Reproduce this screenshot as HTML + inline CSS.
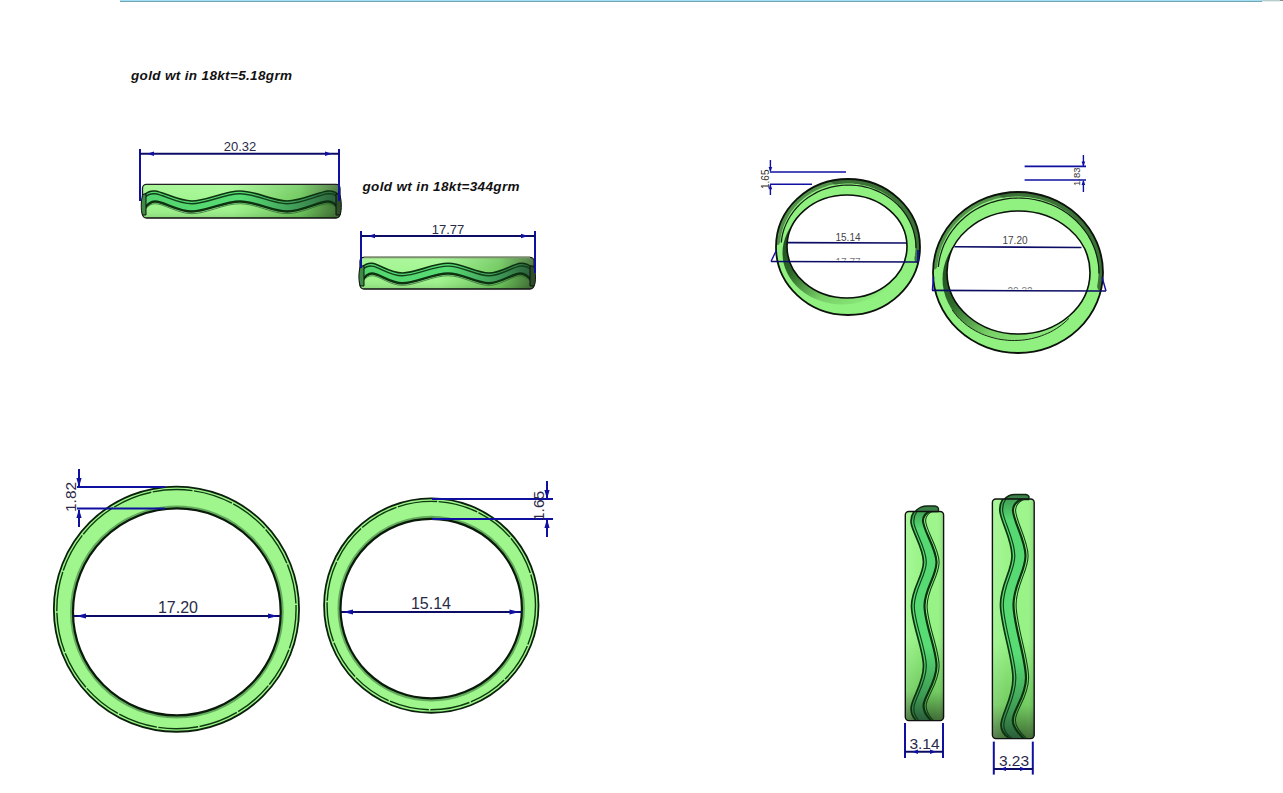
<!DOCTYPE html>
<html><head><meta charset="utf-8"><style>
html,body{margin:0;padding:0;background:#fff;width:1283px;height:793px;overflow:hidden}
svg{display:block}
</style></head><body>
<svg width="1283" height="793" viewBox="0 0 1283 793">
<rect x="120" y="0" width="1142" height="1" fill="#a3dff4"/>
<rect x="120" y="1" width="1142" height="1" fill="#72a6b6"/>
<rect x="1262" y="0" width="18" height="1" fill="#b8cccc"/>
<rect x="1262" y="1" width="18" height="1" fill="#e4eeee"/>
<rect x="1280" y="0" width="3" height="1" fill="#8a8a8a"/>
<text x="131" y="79.6" textLength="161" lengthAdjust="spacing" font-family="Liberation Sans" font-weight="bold" font-style="italic" font-size="13.5" fill="#111">gold wt in 18kt=5.18grm</text>
<text x="362.5" y="190.8" textLength="157" lengthAdjust="spacing" font-family="Liberation Sans" font-weight="bold" font-style="italic" font-size="13.5" fill="#111">gold wt in 18kt=344grm</text>
<defs><linearGradient id="b1b" x1="0" y1="0" x2="1" y2="0"><stop offset="0" stop-color="#9cf48a"/><stop offset="0.45" stop-color="#a0f68e"/><stop offset="0.8" stop-color="#6cc85a"/><stop offset="1" stop-color="#3c6a30"/></linearGradient><linearGradient id="b1v" x1="0" y1="0" x2="0" y2="1"><stop offset="0" stop-color="#fff" stop-opacity="0.15"/><stop offset="0.6" stop-color="#fff" stop-opacity="0"/><stop offset="1" stop-color="#000" stop-opacity="0.12"/></linearGradient><linearGradient id="b1s" x1="0" y1="0" x2="1" y2="0"><stop offset="0" stop-color="#54d46e"/><stop offset="0.5" stop-color="#58dc74"/><stop offset="0.85" stop-color="#3a8a50"/><stop offset="1" stop-color="#2a5a38"/></linearGradient></defs>
<rect x="142.5" y="184.4" width="197.5" height="33.599999999999994" rx="4" fill="url(#b1b)" stroke="#111" stroke-width="1.3"/>
<rect x="142.5" y="184.4" width="197.5" height="33.599999999999994" rx="4" fill="url(#b1v)"/>
<path d="M142.0,196.5 C144.2,195.6 146.7,190.2 155.0,191.0 C163.3,191.8 177.8,201.0 192.0,201.0 C206.2,201.0 224.2,191.0 240.0,191.0 C255.8,191.0 272.3,201.0 287.0,201.0 C301.7,201.0 319.1,191.8 328.0,191.0 C336.9,190.2 338.4,195.6 340.5,196.5 L340.5,212.0 C338.4,210.2 336.9,201.6 328.0,201.5 C319.1,201.4 301.7,211.5 287.0,211.5 C272.3,211.5 255.8,201.5 240.0,201.5 C224.2,201.5 206.2,211.5 192.0,211.5 C177.8,211.5 163.3,201.4 155.0,201.5 C146.7,201.6 144.2,210.2 142.0,212.0 Z" fill="url(#b1s)"/>
<path d="M142.0,196.5 C144.2,195.6 146.7,190.2 155.0,191.0 C163.3,191.8 177.8,201.0 192.0,201.0 C206.2,201.0 224.2,191.0 240.0,191.0 C255.8,191.0 272.3,201.0 287.0,201.0 C301.7,201.0 319.1,191.8 328.0,191.0 C336.9,190.2 338.4,195.6 340.5,196.5" fill="none" stroke="#0c3210" stroke-width="1.6"/>
<path d="M142.0,199.3 C144.2,198.4 146.7,193.1 155.0,193.8 C163.3,194.6 177.8,203.8 192.0,203.8 C206.2,203.8 224.2,193.8 240.0,193.8 C255.8,193.8 272.3,203.8 287.0,203.8 C301.7,203.8 319.1,194.6 328.0,193.8 C336.9,193.1 338.4,198.4 340.5,199.3" fill="none" stroke="#12401a" stroke-width="1.4"/>
<path d="M340.5,212.0 C338.4,210.2 336.9,201.6 328.0,201.5 C319.1,201.4 301.7,211.5 287.0,211.5 C272.3,211.5 255.8,201.5 240.0,201.5 C224.2,201.5 206.2,211.5 192.0,211.5 C177.8,211.5 163.3,201.4 155.0,201.5 C146.7,201.6 144.2,210.2 142.0,212.0" fill="none" stroke="#0c3210" stroke-width="2.4"/>
<path d="M142.0,214.2 C144.2,212.4 146.7,203.8 155.0,203.7 C163.3,203.6 177.8,213.7 192.0,213.7 C206.2,213.7 224.2,203.7 240.0,203.7 C255.8,203.7 272.3,213.7 287.0,213.7 C301.7,213.7 319.1,203.6 328.0,203.7 C336.9,203.8 338.4,212.4 340.5,214.2" fill="none" stroke="#2a5a30" stroke-width="1" stroke-opacity="0.7"/>
<path d="M339,194 C341.8,197 342,211 340,215 L336,215 L336,194 Z" fill="#2e4e2a" stroke="#111" stroke-width="1"/>
<path d="M143.5,194 C140.8,197 140.6,211 142.5,215 L146,215 L146,194 Z" fill="#3e8a46" stroke="#111" stroke-width="1"/>
<line x1="140" y1="149" x2="140" y2="201" stroke="#1010a0" stroke-width="2"/>
<line x1="339" y1="149" x2="339" y2="201" stroke="#1010a0" stroke-width="2"/>
<line x1="140" y1="153.7" x2="339" y2="153.7" stroke="#0c0c64" stroke-width="2"/>
<path d="M147,153.7 L154,151.5 L154,155.89999999999998 Z" fill="#1010a0"/>
<path d="M332,153.7 L325,151.5 L325,155.89999999999998 Z" fill="#1010a0"/>
<text x="240" y="151.4" font-family="Liberation Sans" font-size="13" text-anchor="middle" fill="#2a2a48">20.32</text>
<defs><linearGradient id="b2b" x1="0" y1="0" x2="1" y2="0"><stop offset="0" stop-color="#9cf48a"/><stop offset="0.45" stop-color="#a0f68e"/><stop offset="0.8" stop-color="#6cc85a"/><stop offset="1" stop-color="#3c6a30"/></linearGradient><linearGradient id="b2v" x1="0" y1="0" x2="0" y2="1"><stop offset="0" stop-color="#fff" stop-opacity="0.15"/><stop offset="0.6" stop-color="#fff" stop-opacity="0"/><stop offset="1" stop-color="#000" stop-opacity="0.12"/></linearGradient><linearGradient id="b2s" x1="0" y1="0" x2="1" y2="0"><stop offset="0" stop-color="#54d46e"/><stop offset="0.5" stop-color="#58dc74"/><stop offset="0.85" stop-color="#3a8a50"/><stop offset="1" stop-color="#2a5a38"/></linearGradient></defs>
<rect x="360" y="257.4" width="174" height="31.600000000000023" rx="4" fill="url(#b2b)" stroke="#111" stroke-width="1.3"/>
<rect x="360" y="257.4" width="174" height="31.600000000000023" rx="4" fill="url(#b2v)"/>
<line x1="364" y1="257.4" x2="530" y2="257.4" stroke="#7a8e6a" stroke-width="1.6"/>
<path d="M359.5,268.8 C361.6,267.9 364.9,262.6 372.0,263.3 C379.1,264.0 389.7,273.0 402.4,273.0 C415.1,273.0 433.6,263.3 448.0,263.3 C462.4,263.3 476.6,273.0 488.7,273.0 C500.8,273.0 512.9,264.0 520.5,263.3 C528.1,262.6 532.2,267.9 534.5,268.8 L534.5,283.7 C532.2,282.0 528.1,273.6 520.5,273.5 C512.9,273.4 500.8,283.2 488.7,283.2 C476.6,283.2 462.4,273.5 448.0,273.5 C433.6,273.5 415.1,283.2 402.4,283.2 C389.7,283.2 379.1,273.4 372.0,273.5 C364.9,273.6 361.6,282.0 359.5,283.7 Z" fill="url(#b2s)"/>
<path d="M359.5,268.8 C361.6,267.9 364.9,262.6 372.0,263.3 C379.1,264.0 389.7,273.0 402.4,273.0 C415.1,273.0 433.6,263.3 448.0,263.3 C462.4,263.3 476.6,273.0 488.7,273.0 C500.8,273.0 512.9,264.0 520.5,263.3 C528.1,262.6 532.2,267.9 534.5,268.8" fill="none" stroke="#0c3210" stroke-width="1.6"/>
<path d="M359.5,271.6 C361.6,270.7 364.9,265.4 372.0,266.1 C379.1,266.8 389.7,275.8 402.4,275.8 C415.1,275.8 433.6,266.1 448.0,266.1 C462.4,266.1 476.6,275.8 488.7,275.8 C500.8,275.8 512.9,266.8 520.5,266.1 C528.1,265.4 532.2,270.7 534.5,271.6" fill="none" stroke="#12401a" stroke-width="1.4"/>
<path d="M534.5,283.7 C532.2,282.0 528.1,273.6 520.5,273.5 C512.9,273.4 500.8,283.2 488.7,283.2 C476.6,283.2 462.4,273.5 448.0,273.5 C433.6,273.5 415.1,283.2 402.4,283.2 C389.7,283.2 379.1,273.4 372.0,273.5 C364.9,273.6 361.6,282.0 359.5,283.7" fill="none" stroke="#0c3210" stroke-width="2.4"/>
<path d="M359.5,285.9 C361.6,284.2 364.9,275.8 372.0,275.7 C379.1,275.6 389.7,285.4 402.4,285.4 C415.1,285.4 433.6,275.7 448.0,275.7 C462.4,275.7 476.6,285.4 488.7,285.4 C500.8,285.4 512.9,275.6 520.5,275.7 C528.1,275.8 532.2,284.2 534.5,285.9" fill="none" stroke="#2a5a30" stroke-width="1" stroke-opacity="0.7"/>
<path d="M533,266 C536,269 536.2,283 534,286 L530,286 L530,266 Z" fill="#2e4e2a" stroke="#111" stroke-width="1"/>
<path d="M361,266 C358.3,269 358.3,283 360.5,286 L364,286 L364,266 Z" fill="#3e8a46" stroke="#111" stroke-width="1"/>
<line x1="361" y1="231" x2="361" y2="268" stroke="#1010a0" stroke-width="2"/>
<line x1="535" y1="231" x2="535" y2="273" stroke="#1010a0" stroke-width="2"/>
<line x1="361" y1="236" x2="535" y2="236" stroke="#0c0c64" stroke-width="2"/>
<path d="M368,236 L375,233.8 L375,238.2 Z" fill="#1010a0"/>
<path d="M528,236 L521,233.8 L521,238.2 Z" fill="#1010a0"/>
<text x="448" y="233.5" font-family="Liberation Sans" font-size="13" text-anchor="middle" fill="#2a2a48">17.77</text>
<circle cx="176.45" cy="609.15" r="122.6" fill="#9ef68c" stroke="#0a200a" stroke-width="1.8"/>
<circle cx="176.45" cy="609.15" r="119.6" fill="none" stroke="#0e3a0e" stroke-width="1.4" stroke-dasharray="40 1.5"/>
<ellipse cx="176.85" cy="611.9" rx="105.35" ry="105.0" fill="none" stroke="#3a7a3a" stroke-width="3" stroke-opacity="0.6"/>
<ellipse cx="176.85" cy="611.9" rx="103.85" ry="103.5" fill="#fff" stroke="#0a1a0a" stroke-width="2.2"/>
<circle cx="431.3" cy="605.55" r="107.2" fill="#9ef68c" stroke="#0a200a" stroke-width="1.8"/>
<circle cx="431.3" cy="605.55" r="104.2" fill="none" stroke="#0e3a0e" stroke-width="1.4" stroke-dasharray="40 1.5"/>
<ellipse cx="431.2" cy="608.6" rx="92.2" ry="91.3" fill="none" stroke="#3a7a3a" stroke-width="3" stroke-opacity="0.6"/>
<ellipse cx="431.2" cy="608.6" rx="90.7" ry="89.8" fill="#fff" stroke="#0a1a0a" stroke-width="2.2"/>
<line x1="77" y1="487" x2="165" y2="487" stroke="#1010a0" stroke-width="2"/>
<line x1="77" y1="508.6" x2="165" y2="508.6" stroke="#1010a0" stroke-width="2"/>
<line x1="79" y1="469" x2="79" y2="486" stroke="#1010a0" stroke-width="2"/>
<path d="M79,487 L76.4,478 L81.6,478 Z" fill="#1010a0"/>
<line x1="79" y1="510" x2="79" y2="527" stroke="#1010a0" stroke-width="2"/>
<path d="M79,509 L76.4,518 L81.6,518 Z" fill="#1010a0"/>
<text x="76" y="512" font-family="Liberation Sans" font-size="15.5" text-anchor="start" fill="#2a2a48" transform="rotate(-90 76 512)">1.82</text>
<line x1="73.5" y1="616" x2="280.5" y2="616" stroke="#0c0c64" stroke-width="2"/>
<path d="M76,616 L86,613.4 L86,618.6 Z" fill="#1010a0"/>
<path d="M278,616 L268,613.4 L268,618.6 Z" fill="#1010a0"/>
<text x="178" y="612.8" font-family="Liberation Sans" font-size="16" text-anchor="middle" fill="#2a2a48">17.20</text>
<line x1="432" y1="498.9" x2="553" y2="498.9" stroke="#1010a0" stroke-width="2"/>
<line x1="432" y1="518.9" x2="553" y2="518.9" stroke="#1010a0" stroke-width="2"/>
<line x1="547" y1="481" x2="547" y2="498" stroke="#1010a0" stroke-width="2"/>
<path d="M547,498.9 L544.4,489.9 L549.6,489.9 Z" fill="#1010a0"/>
<line x1="547" y1="519" x2="547" y2="537" stroke="#1010a0" stroke-width="2"/>
<path d="M547,518.9 L544.4,527.9 L549.6,527.9 Z" fill="#1010a0"/>
<text x="544" y="521" font-family="Liberation Sans" font-size="15.5" text-anchor="start" fill="#2a2a48" transform="rotate(-90 544 521)">1.65</text>
<line x1="341" y1="612" x2="522" y2="612" stroke="#0c0c64" stroke-width="2"/>
<path d="M343,612 L353,609.4 L353,614.6 Z" fill="#1010a0"/>
<path d="M519.5,612 L509.5,609.4 L509.5,614.6 Z" fill="#1010a0"/>
<text x="431" y="608.8" font-family="Liberation Sans" font-size="16" text-anchor="middle" fill="#2a2a48">15.14</text>
<defs><linearGradient id="pg1" x1="0" y1="0.3" x2="0.8" y2="1"><stop offset="0" stop-color="#1e4a1e"/><stop offset="0.3" stop-color="#2e6a2a"/><stop offset="0.62" stop-color="#78d066"/><stop offset="1" stop-color="#90f080"/></linearGradient><clipPath id="pg1c"><ellipse cx="848" cy="247" rx="72" ry="68"/></clipPath></defs>
<ellipse cx="848" cy="247" rx="72" ry="68" fill="#90f080"/>
<g clip-path="url(#pg1c)">
<path d="M835.5,180.0 L838.9,179.5 L842.4,179.2 L845.8,179.0 L849.3,179.0 L852.7,179.1 L856.2,179.4 L859.6,179.9 L863.0,180.5 L866.3,181.2 L869.7,182.1 L872.9,183.2 L876.1,184.4 L879.3,185.8 L882.4,187.2 L885.4,188.9 L888.3,190.6 L891.1,192.5 L893.8,194.5 L896.4,196.7 L898.9,198.9 L901.3,201.3 L903.6,203.7 L905.7,206.3 L907.7,209.0 L909.6,211.7 L911.3,214.6 L912.9,217.5 L914.3,220.4 L915.5,223.5 L916.7,226.6 L917.6,229.7 L918.4,232.9 L919.1,236.1 L919.5,239.3 L919.8,242.6 L920.0,245.8 L920.0,249.1 L919.8,252.3 L919.4,255.6 L918.9,258.8" fill="none" stroke="#2e5a2a" stroke-width="9" stroke-linecap="round" stroke-opacity="0.85"/>
<path d="M776.3,241.1 L776.5,238.9 L776.8,236.7 L777.2,234.5 L777.7,232.3 L778.3,230.1 L778.9,228.0 L779.6,225.8 L780.3,223.7 L781.2,221.7 L782.1,219.6 L783.1,217.6 L784.1,215.6 L785.3,213.6 L786.4,211.7 L787.7,209.8 L789.0,208.0 L790.4,206.2 L791.8,204.4 L793.4,202.7 L794.9,201.1 L796.5,199.4 L798.2,197.9 L799.9,196.4 L801.7,194.9 L803.5,193.5 L805.4,192.2 L807.3,190.9 L809.3,189.6 L811.3,188.5 L813.4,187.4 L815.5,186.3 L817.6,185.4 L819.7,184.5 L821.9,183.6 L824.1,182.9 L826.3,182.1 L828.6,181.5 L830.9,180.9 L833.2,180.5 L835.5,180.0" fill="none" stroke="#3a6a34" stroke-width="8" stroke-linecap="round" stroke-opacity="0.7"/>
<path d="M781.3,242.5 L781.9,237.7 L782.9,233.0 L784.3,228.4 L786.1,223.9 L788.3,219.5 L790.8,215.3 L793.6,211.3 L796.8,207.5 L800.3,203.9 L804.0,200.6 L808.0,197.6 L812.2,194.9 L816.7,192.4 L821.3,190.3 L826.1,188.6 L831.0,187.1 L836.1,186.1 L841.2,185.4 L846.3,185.0 L851.4,185.1 L856.6,185.5 L861.7,186.2 L866.7,187.3 L871.6,188.8 L876.4,190.6 L881.0,192.8 L885.4,195.2 L889.6,198.0 L893.6,201.1 L897.3,204.4 L900.7,208.0 L903.8,211.9 L906.6,215.9 L909.0,220.1 L911.1,224.5 L912.9,229.1 L914.2,233.7 L915.2,238.4 L915.8,243.2 L916.0,248.0" fill="none" stroke="#0e200e" stroke-width="1.2"/>
</g>
<ellipse cx="848" cy="247" rx="72" ry="68" fill="none" stroke="#0a120a" stroke-width="1.8"/>
<ellipse cx="842.5" cy="253.0" rx="60" ry="51.5" fill="url(#pg1)"/>
<ellipse cx="847" cy="246.5" rx="60" ry="51.5" fill="#fff" stroke="#0a120a" stroke-width="1.6"/>
<defs><linearGradient id="pg2" x1="0" y1="0.3" x2="0.8" y2="1"><stop offset="0" stop-color="#1e4a1e"/><stop offset="0.3" stop-color="#2e6a2a"/><stop offset="0.62" stop-color="#78d066"/><stop offset="1" stop-color="#90f080"/></linearGradient><clipPath id="pg2c"><ellipse cx="1018" cy="272.5" rx="85" ry="80.5"/></clipPath></defs>
<ellipse cx="1018" cy="272.5" rx="85" ry="80.5" fill="#90f080"/>
<g clip-path="url(#pg2c)">
<path d="M1003.2,193.2 L1007.3,192.6 L1011.3,192.2 L1015.4,192.0 L1019.5,192.0 L1023.6,192.2 L1027.6,192.5 L1031.7,193.0 L1035.7,193.8 L1039.6,194.7 L1043.6,195.7 L1047.4,197.0 L1051.2,198.4 L1054.9,200.0 L1058.6,201.8 L1062.1,203.7 L1065.5,205.8 L1068.9,208.0 L1072.1,210.4 L1075.2,212.9 L1078.1,215.6 L1080.9,218.4 L1083.6,221.3 L1086.1,224.3 L1088.5,227.5 L1090.7,230.7 L1092.7,234.1 L1094.6,237.5 L1096.2,241.0 L1097.7,244.6 L1099.1,248.3 L1100.2,252.0 L1101.1,255.8 L1101.9,259.6 L1102.5,263.4 L1102.8,267.2 L1103.0,271.1 L1103.0,275.0 L1102.7,278.8 L1102.3,282.7 L1101.7,286.5" fill="none" stroke="#2e5a2a" stroke-width="9" stroke-linecap="round" stroke-opacity="0.85"/>
<path d="M933.3,265.5 L933.6,262.9 L934.0,260.3 L934.5,257.7 L935.0,255.1 L935.7,252.5 L936.4,250.0 L937.2,247.5 L938.1,245.0 L939.1,242.5 L940.2,240.1 L941.4,237.7 L942.6,235.3 L943.9,233.0 L945.3,230.7 L946.8,228.5 L948.4,226.3 L950.0,224.2 L951.7,222.1 L953.5,220.1 L955.3,218.1 L957.2,216.2 L959.2,214.3 L961.3,212.6 L963.4,210.8 L965.5,209.2 L967.7,207.6 L970.0,206.1 L972.3,204.6 L974.7,203.2 L977.1,201.9 L979.6,200.7 L982.1,199.5 L984.6,198.5 L987.2,197.5 L989.8,196.6 L992.4,195.7 L995.1,195.0 L997.8,194.3 L1000.5,193.7 L1003.2,193.2" fill="none" stroke="#3a6a34" stroke-width="8" stroke-linecap="round" stroke-opacity="0.7"/>
<path d="M938.3,266.9 L939.1,261.2 L940.3,255.6 L942.0,250.0 L944.1,244.6 L946.7,239.4 L949.7,234.3 L953.1,229.5 L956.8,225.0 L961.0,220.7 L965.4,216.7 L970.2,213.1 L975.2,209.8 L980.6,206.9 L986.1,204.4 L991.8,202.3 L997.7,200.6 L1003.7,199.3 L1009.7,198.4 L1015.9,198.0 L1022.0,198.1 L1028.1,198.5 L1034.2,199.5 L1040.2,200.8 L1046.0,202.6 L1051.7,204.7 L1057.2,207.3 L1062.5,210.3 L1067.5,213.6 L1072.2,217.3 L1076.7,221.3 L1080.7,225.6 L1084.4,230.2 L1087.8,235.0 L1090.7,240.1 L1093.2,245.4 L1095.3,250.8 L1096.9,256.4 L1098.1,262.0 L1098.8,267.7 L1099.0,273.5" fill="none" stroke="#0e200e" stroke-width="1.2"/>
</g>
<ellipse cx="1018" cy="272.5" rx="85" ry="80.5" fill="none" stroke="#0a120a" stroke-width="1.8"/>
<ellipse cx="1014.0" cy="279.0" rx="71.5" ry="61.5" fill="url(#pg2)"/>
<path d="M1068.8,318.5 L1066.5,320.7 L1064.1,322.9 L1061.6,324.9 L1059.0,326.8 L1056.3,328.6 L1053.5,330.3 L1050.6,331.9 L1047.6,333.3 L1044.5,334.6 L1041.4,335.8 L1038.2,336.9 L1034.9,337.8 L1031.6,338.6 L1028.3,339.3 L1024.9,339.8 L1021.5,340.2 L1018.1,340.4 L1014.6,340.5 L1011.2,340.5 L1007.8,340.3 L1004.4,339.9 L1001.0,339.5 L997.6,338.9 L994.3,338.1 L991.0,337.2 L987.8,336.2 L984.6,335.1 L981.5,333.8 L978.5,332.4 L975.6,330.9 L972.7,329.2 L970.0,327.5 L967.3,325.6 L964.8,323.6 L962.4,321.5 L960.0,319.3 L957.8,317.1 L955.8,314.7 L953.9,312.3 L952.1,309.8" fill="none" stroke="#1a2a18" stroke-width="1"/>
<ellipse cx="1018.5" cy="272.5" rx="71.5" ry="61.5" fill="#fff" stroke="#0a120a" stroke-width="1.6"/>
<line x1="770" y1="172" x2="846" y2="172" stroke="#1010a0" stroke-width="1.6"/>
<line x1="770" y1="184.3" x2="812" y2="184.3" stroke="#1010a0" stroke-width="1.6"/>
<line x1="770.4" y1="160" x2="770.4" y2="171" stroke="#1010a0" stroke-width="1.4"/>
<path d="M770.4,172 L768.6,167 L772.1999999999999,167 Z" fill="#1010a0"/>
<line x1="770.4" y1="185" x2="770.4" y2="195" stroke="#1010a0" stroke-width="1.4"/>
<path d="M770.4,184.3 L768.6,189.3 L772.1999999999999,189.3 Z" fill="#1010a0"/>
<text x="769" y="189" font-family="Liberation Sans" font-size="10" text-anchor="start" fill="#333" transform="rotate(-90 769 189)">1.65</text>
<line x1="788" y1="242.6" x2="906" y2="243" stroke="#0c0c64" stroke-width="1.6"/>
<text x="848" y="240.6" font-family="Liberation Sans" font-size="10" text-anchor="middle" fill="#444">15.14</text>
<line x1="771" y1="261.5" x2="918" y2="262" stroke="#0c0c64" stroke-width="1.6"/>
<line x1="771" y1="261.5" x2="776.5" y2="250" stroke="#1010a0" stroke-width="1.4"/>
<line x1="918" y1="250" x2="918" y2="262" stroke="#1010a0" stroke-width="1.8"/>
<clipPath id="cl1"><rect x="800" y="250" width="100" height="10.5"/></clipPath>
<g clip-path="url(#cl1)">
<text x="848" y="265.5" font-family="Liberation Sans" font-size="10" text-anchor="middle" fill="#777">17.77</text>
</g>
<line x1="1024.6" y1="166.4" x2="1086" y2="166.4" stroke="#1010a0" stroke-width="1.6"/>
<line x1="1024.6" y1="180" x2="1086" y2="180" stroke="#1010a0" stroke-width="1.6"/>
<line x1="1083.4" y1="155" x2="1083.4" y2="166" stroke="#1010a0" stroke-width="1.4"/>
<path d="M1083.4,166.4 L1081.6000000000001,161.4 L1085.2,161.4 Z" fill="#1010a0"/>
<line x1="1083.4" y1="181" x2="1083.4" y2="192" stroke="#1010a0" stroke-width="1.4"/>
<path d="M1083.4,180 L1081.6000000000001,185 L1085.2,185 Z" fill="#1010a0"/>
<text x="1080" y="186" font-family="Liberation Sans" font-size="9.5" text-anchor="start" fill="#333" transform="rotate(-90 1080 186)">1.83</text>
<line x1="954.4" y1="246.7" x2="1081.5" y2="247.5" stroke="#0c0c64" stroke-width="1.6"/>
<text x="1015" y="244" font-family="Liberation Sans" font-size="10" text-anchor="middle" fill="#444">17.20</text>
<line x1="932" y1="290.4" x2="1106" y2="291" stroke="#0c0c64" stroke-width="1.6"/>
<line x1="932.5" y1="290.4" x2="933.5" y2="277" stroke="#1010a0" stroke-width="1.6"/>
<line x1="1102" y1="277" x2="1106" y2="291" stroke="#1010a0" stroke-width="1.4"/>
<clipPath id="cl2"><rect x="990" y="280" width="60" height="9.5"/></clipPath>
<g clip-path="url(#cl2)">
<text x="1020" y="295" font-family="Liberation Sans" font-size="10" text-anchor="middle" fill="#777">20.32</text>
</g>
<defs><linearGradient id="v1b" x1="0" y1="0" x2="0" y2="1"><stop offset="0" stop-color="#9ef68c"/><stop offset="0.6" stop-color="#96f284"/><stop offset="0.86" stop-color="#72cc60"/><stop offset="1" stop-color="#3e6a34"/></linearGradient><linearGradient id="v1h" x1="0" y1="0" x2="1" y2="0"><stop offset="0" stop-color="#fff" stop-opacity="0.15"/><stop offset="0.35" stop-color="#fff" stop-opacity="0"/><stop offset="0.8" stop-color="#fff" stop-opacity="0"/><stop offset="1" stop-color="#000" stop-opacity="0.12"/></linearGradient><linearGradient id="v1s" x1="0" y1="0" x2="0" y2="1"><stop offset="0" stop-color="#3e9a50"/><stop offset="0.1" stop-color="#56d872"/><stop offset="0.65" stop-color="#58dc74"/><stop offset="0.88" stop-color="#3e9a54"/><stop offset="1" stop-color="#2a5a38"/></linearGradient><clipPath id="v1c"><rect x="905.3" y="511.5" width="38.30000000000007" height="209.10000000000002" rx="3.5"/></clipPath></defs>
<rect x="905.3" y="511.5" width="38.30000000000007" height="209.10000000000002" rx="3.5" fill="url(#v1b)"/>
<rect x="905.3" y="511.5" width="38.30000000000007" height="209.10000000000002" rx="3.5" fill="url(#v1h)"/>
<path d="M915,512 C918,508 922,506 927,506 L935,506 C938,506.3 939.3,508.5 938,511.5 Z" fill="#3a8048" stroke="#102810" stroke-width="1.4"/>
<g clip-path="url(#v1c)">
<path d="M915.5,509.0 C914.8,511.4 909.9,514.6 911.2,523.4 C912.5,532.2 923.5,548.2 923.5,562.0 C923.5,575.8 911.5,588.7 911.5,606.0 C911.5,623.3 923.5,649.2 923.5,666.0 C923.5,682.8 912.3,697.7 911.2,707.0 C910.1,716.3 916.0,719.5 917.0,722.0 L932.0,722.0 C930.6,719.2 922.9,714.3 923.6,705.0 C924.4,695.7 936.4,682.5 936.5,666.0 C936.6,649.5 924.5,623.3 924.5,606.0 C924.5,588.7 936.8,576.2 936.5,562.0 C936.2,547.8 922.8,529.7 923.0,520.5 C923.2,511.3 935.5,509.2 938.0,507.0 Z" fill="url(#v1s)"/>
<path d="M915.5,509.0 C914.8,511.4 909.9,514.6 911.2,523.4 C912.5,532.2 923.5,548.2 923.5,562.0 C923.5,575.8 911.5,588.7 911.5,606.0 C911.5,623.3 923.5,649.2 923.5,666.0 C923.5,682.8 912.3,697.7 911.2,707.0 C910.1,716.3 916.0,719.5 917.0,722.0" fill="none" stroke="#0c3210" stroke-width="1.7"/>
<path d="M918.3,509.0 C917.6,511.4 912.7,514.6 914.0,523.4 C915.3,532.2 926.2,548.2 926.3,562.0 C926.3,575.8 914.3,588.7 914.3,606.0 C914.3,623.3 926.3,649.2 926.3,666.0 C926.2,682.8 915.1,697.7 914.0,707.0 C912.9,716.3 918.8,719.5 919.8,722.0" fill="none" stroke="#12401a" stroke-width="1.2"/>
<path d="M932.0,722.0 C930.6,719.2 922.9,714.3 923.6,705.0 C924.4,695.7 936.4,682.5 936.5,666.0 C936.6,649.5 924.5,623.3 924.5,606.0 C924.5,588.7 936.8,576.2 936.5,562.0 C936.2,547.8 922.8,529.7 923.0,520.5 C923.2,511.3 935.5,509.2 938.0,507.0" fill="none" stroke="#0c3210" stroke-width="2.2"/>
<path d="M940.6,507.0 C938.1,509.2 925.9,511.3 925.6,520.5 C925.4,529.7 938.9,547.8 939.1,562.0 C939.4,576.2 927.1,588.7 927.1,606.0 C927.1,623.3 939.2,649.5 939.1,666.0 C939.0,682.5 927.0,695.7 926.2,705.0 C925.5,714.3 933.2,719.2 934.6,722.0" fill="none" stroke="#12401a" stroke-width="1.1"/>
</g>
<rect x="905.3" y="511.5" width="38.30000000000007" height="209.10000000000002" rx="3.5" fill="none" stroke="#111" stroke-width="1.4"/>
<defs><linearGradient id="v2b" x1="0" y1="0" x2="0" y2="1"><stop offset="0" stop-color="#9ef68c"/><stop offset="0.6" stop-color="#96f284"/><stop offset="0.86" stop-color="#72cc60"/><stop offset="1" stop-color="#3e6a34"/></linearGradient><linearGradient id="v2h" x1="0" y1="0" x2="1" y2="0"><stop offset="0" stop-color="#fff" stop-opacity="0.15"/><stop offset="0.35" stop-color="#fff" stop-opacity="0"/><stop offset="0.8" stop-color="#fff" stop-opacity="0"/><stop offset="1" stop-color="#000" stop-opacity="0.12"/></linearGradient><linearGradient id="v2s" x1="0" y1="0" x2="0" y2="1"><stop offset="0" stop-color="#3e9a50"/><stop offset="0.1" stop-color="#56d872"/><stop offset="0.65" stop-color="#58dc74"/><stop offset="0.88" stop-color="#3e9a54"/><stop offset="1" stop-color="#2a5a38"/></linearGradient><clipPath id="v2c"><rect x="992.4" y="499" width="41.80000000000007" height="239.60000000000002" rx="3.5"/></clipPath></defs>
<rect x="992.4" y="499" width="41.80000000000007" height="239.60000000000002" rx="3.5" fill="url(#v2b)"/>
<rect x="992.4" y="499" width="41.80000000000007" height="239.60000000000002" rx="3.5" fill="url(#v2h)"/>
<path d="M1004,499.5 C1007,496 1010,494.5 1015,494.5 L1026,494.5 C1028.5,494.8 1029.8,497 1028.5,499.5 Z" fill="#3a8048" stroke="#102810" stroke-width="1.4"/>
<g clip-path="url(#v2c)">
<path d="M1004.0,497.0 C1003.3,499.5 998.7,502.2 1000.0,512.0 C1001.3,521.8 1011.9,540.1 1012.0,555.6 C1012.1,571.1 1000.3,584.6 1000.5,605.0 C1000.7,625.4 1012.9,658.0 1013.0,678.0 C1013.1,698.0 1001.3,714.4 1001.0,724.7 C1000.7,735.0 1009.3,737.5 1011.0,740.0 L1025.0,740.0 C1023.0,736.7 1012.6,730.3 1012.8,720.0 C1013.0,709.7 1025.9,697.2 1026.0,678.0 C1026.1,658.8 1013.6,625.4 1013.5,605.0 C1013.4,584.6 1025.6,571.4 1025.5,555.6 C1025.4,539.8 1012.6,519.9 1013.0,510.0 C1013.4,500.1 1025.5,498.3 1028.0,496.0 Z" fill="url(#v2s)"/>
<path d="M1004.0,497.0 C1003.3,499.5 998.7,502.2 1000.0,512.0 C1001.3,521.8 1011.9,540.1 1012.0,555.6 C1012.1,571.1 1000.3,584.6 1000.5,605.0 C1000.7,625.4 1012.9,658.0 1013.0,678.0 C1013.1,698.0 1001.3,714.4 1001.0,724.7 C1000.7,735.0 1009.3,737.5 1011.0,740.0" fill="none" stroke="#0c3210" stroke-width="1.7"/>
<path d="M1006.8,497.0 C1006.1,499.5 1001.5,502.2 1002.8,512.0 C1004.1,521.8 1014.7,540.1 1014.8,555.6 C1014.9,571.1 1003.1,584.6 1003.3,605.0 C1003.5,625.4 1015.7,658.0 1015.8,678.0 C1015.9,698.0 1004.1,714.4 1003.8,724.7 C1003.5,735.0 1012.1,737.5 1013.8,740.0" fill="none" stroke="#12401a" stroke-width="1.2"/>
<path d="M1025.0,740.0 C1023.0,736.7 1012.6,730.3 1012.8,720.0 C1013.0,709.7 1025.9,697.2 1026.0,678.0 C1026.1,658.8 1013.6,625.4 1013.5,605.0 C1013.4,584.6 1025.6,571.4 1025.5,555.6 C1025.4,539.8 1012.6,519.9 1013.0,510.0 C1013.4,500.1 1025.5,498.3 1028.0,496.0" fill="none" stroke="#0c3210" stroke-width="2.2"/>
<path d="M1030.6,496.0 C1028.1,498.3 1016.0,500.1 1015.6,510.0 C1015.2,519.9 1028.0,539.8 1028.1,555.6 C1028.2,571.4 1016.0,584.6 1016.1,605.0 C1016.2,625.4 1028.7,658.8 1028.6,678.0 C1028.5,697.2 1015.6,709.7 1015.4,720.0 C1015.2,730.3 1025.6,736.7 1027.6,740.0" fill="none" stroke="#12401a" stroke-width="1.1"/>
</g>
<rect x="992.4" y="499" width="41.80000000000007" height="239.60000000000002" rx="3.5" fill="none" stroke="#111" stroke-width="1.4"/>
<line x1="905" y1="723" x2="905" y2="758" stroke="#1010a0" stroke-width="2"/>
<line x1="943" y1="723" x2="943" y2="758" stroke="#1010a0" stroke-width="2"/>
<line x1="905" y1="751.7" x2="943" y2="751.7" stroke="#0c0c64" stroke-width="2"/>
<path d="M912,751.7 L918,749.5 L918,753.9000000000001 Z" fill="#1010a0"/>
<path d="M936,751.7 L930,749.5 L930,753.9000000000001 Z" fill="#1010a0"/>
<text x="924.5" y="748.7" font-family="Liberation Sans" font-size="15.5" text-anchor="middle" fill="#2a2a48">3.14</text>
<line x1="993.8" y1="741.6" x2="993.8" y2="774.6" stroke="#1010a0" stroke-width="2"/>
<line x1="1032.8" y1="741.6" x2="1032.8" y2="774.6" stroke="#1010a0" stroke-width="2"/>
<line x1="993.8" y1="768.9" x2="1032.8" y2="768.9" stroke="#0c0c64" stroke-width="2"/>
<path d="M1000,768.9 L1006,766.6999999999999 L1006,771.1 Z" fill="#1010a0"/>
<path d="M1026,768.9 L1020,766.6999999999999 L1020,771.1 Z" fill="#1010a0"/>
<text x="1014" y="765.5" font-family="Liberation Sans" font-size="15.5" text-anchor="middle" fill="#2a2a48">3.23</text>
</svg></body></html>
